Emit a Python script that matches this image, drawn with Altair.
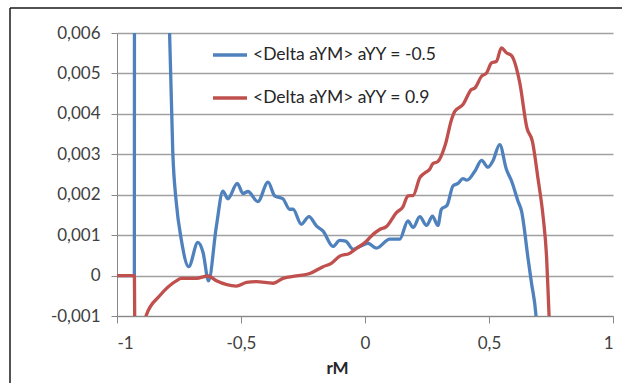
import altair as alt
import pandas as pd

SERIES = ["<Delta aYM> aYY = -0.5", "<Delta aYM> aYY = 0.9"]
COLORS = ["#4F81BD", "#C0504D"]

x_ticks = [-1, -0.5, 0, 0.5, 1]
y_ticks = [-0.001, 0, 0.001, 0.002, 0.003, 0.004, 0.005, 0.006]

blue_x = [-1.0, -0.93, -0.927, -0.80, -0.788, -0.775, -0.761, -0.741, -0.711, -0.674, -0.653,
          -0.631, -0.599, -0.573, -0.553, -0.515, -0.492, -0.472, -0.432, -0.391, -0.364,
          -0.331, -0.304, -0.29, -0.257, -0.226, -0.196, -0.169, -0.129, -0.102, -0.078,
          -0.048, -0.021, 0.012, 0.046, 0.1, 0.14, 0.173, 0.194, 0.221, 0.248, 0.272, 0.294,
          0.308, 0.331, 0.355, 0.375, 0.395, 0.411, 0.443, 0.47, 0.496, 0.516, 0.543, 0.57,
          0.591, 0.617, 0.631, 0.658, 0.671, 0.689, 0.70]
blue_y = [0.0, 0.0, 0.05, 0.0095, 0.006, 0.00304, 0.00181, 0.0009, 0.00022, 0.00082, 0.00057,
          -0.00013, 0.00123, 0.00209, 0.0019, 0.00228, 0.00203, 0.00208, 0.00183, 0.00231, 0.00197,
          0.0019, 0.00164, 0.00164, 0.00127, 0.00146, 0.00123, 0.0011, 0.00072, 0.00087, 0.00085,
          0.00065, 0.00072, 0.0008, 0.00068, 0.0009, 0.0009, 0.00135, 0.00119, 0.00146, 0.00124,
          0.00147, 0.00124, 0.00164, 0.00174, 0.00222, 0.00228, 0.0024, 0.00236, 0.00258, 0.00285,
          0.00268, 0.00284, 0.00324, 0.00263, 0.00234, 0.00184, 0.0016, 0.0004, -0.00017, -0.00096,
          -0.002]

red_x = [-1.0, -0.93, -0.927, -0.90, -0.882, -0.828, -0.761, -0.741, -0.68, -0.633, -0.599,
         -0.519, -0.478, -0.438, -0.371, -0.331, -0.277, -0.223, -0.169, -0.136, -0.102, -0.062,
         -0.035, 0.006, 0.019, 0.059, 0.086, 0.127, 0.153, 0.173, 0.194, 0.221, 0.241, 0.261,
         0.274, 0.294, 0.324, 0.349, 0.362, 0.395, 0.429, 0.443, 0.47, 0.49, 0.51, 0.53, 0.55,
         0.57, 0.591, 0.624, 0.653, 0.675, 0.698, 0.718, 0.732, 0.742, 0.75]
red_y = [0.0, 0.0, -0.0025, -0.0016, -0.00098, -0.0005, -0.00013, -0.00007, -0.00007, -0.00001,
         -0.00013, -0.00026, -0.00017, -0.00015, -0.00019, -0.00007, -0.00001, 0.00005, 0.00022,
         0.0003, 0.00048, 0.00055, 0.00067, 0.00085, 0.00094, 0.00114, 0.00121, 0.00156, 0.0017,
         0.00197, 0.00198, 0.00242, 0.00254, 0.00263, 0.00277, 0.00282, 0.00324, 0.00386, 0.00406,
         0.00423, 0.0046, 0.00464, 0.00493, 0.00501, 0.00526, 0.0053, 0.00563, 0.00551, 0.00544,
         0.00477, 0.00365, 0.00332, 0.00238, 0.00147, 0.00048, -0.00096, -0.002]

df = pd.concat([
    pd.DataFrame({"x": blue_x, "y": blue_y, "series": SERIES[0], "ord": range(len(blue_x))}),
    pd.DataFrame({"x": red_x, "y": red_y, "series": SERIES[1], "ord": range(len(red_x))}),
])

FONT = "Lato"
TXT = "#404040"
GRID = "#a0a0a0"

x_enc = alt.X("x:Q",
              scale=alt.Scale(domain=[-1, 1], nice=False, zero=False),
              axis=alt.Axis(values=x_ticks, grid=False, title="rM",
                            labelExpr="replace(toString(datum.value), '.', ',')",
                            tickSize=7, labelPadding=12, domainColor="#888888",
                            tickColor="#888888", labelFontSize=17, labelColor=TXT,
                            titleFontSize=17, titleFontWeight="bold", titleColor="#262626",
                            titleX=220, titleY=52, titleAlign="center",
                            titleBaseline="middle", labelFont=FONT, titleFont=FONT))
y_enc = alt.Y("y:Q",
              scale=alt.Scale(domain=[-0.001, 0.006], nice=False, zero=False),
              axis=alt.Axis(values=y_ticks, grid=True, gridColor=GRID, gridWidth=1.3,
                            title=None,
                            labelExpr="replace(toString(datum.value), '.', ',')",
                            tickSize=6, labelPadding=11, domainColor="#888888",
                            tickColor="#888888", labelFontSize=17, labelColor=TXT,
                            labelFont=FONT))
color_enc = alt.Color("series:N",
                      scale=alt.Scale(domain=SERIES, range=COLORS),
                      legend=alt.Legend(title=None, orient="none", legendX=94, legendY=3,
                                        symbolType="stroke", symbolSize=1156,
                                        symbolStrokeWidth=3.5, labelFontSize=17.5,
                                        labelFont=FONT, labelColor="#262626",
                                        labelLimit=400, rowPadding=15, padding=0,
                                        labelOffset=4))

base = alt.Chart(df)
blue = base.transform_filter(alt.datum.series == SERIES[0]).mark_line(
    strokeWidth=3.3, clip=True, interpolate="monotone").encode(
    x=x_enc, y=y_enc, color=color_enc, order="ord:Q")
red = base.transform_filter(alt.datum.series == SERIES[1]).mark_line(
    strokeWidth=3.3, clip=True, interpolate="monotone").encode(
    x=x_enc, y=y_enc, color=color_enc, order="ord:Q")

border_top = alt.Chart(pd.DataFrame({"a": [0]})).mark_rule(
    color="#1a1a1a", strokeWidth=1.5, clip=False).encode(
    x=alt.value(-107), x2=alt.value(600), y=alt.value(-25))
border_left = alt.Chart(pd.DataFrame({"a": [0]})).mark_rule(
    color="#1a1a1a", strokeWidth=1.5, clip=False).encode(
    x=alt.value(-107), y=alt.value(-25), y2=alt.value(400))

chart = alt.layer(blue, red, border_top, border_left).properties(
    width=496, height=283,
    autosize=alt.AutoSizeParams(type="none"),
    padding={"left": 117, "top": 33, "right": 9, "bottom": 67},
    background="white",
).configure_view(stroke=None)

chart.save("out.html", embed_options={"renderer": "svg", "actions": False})
